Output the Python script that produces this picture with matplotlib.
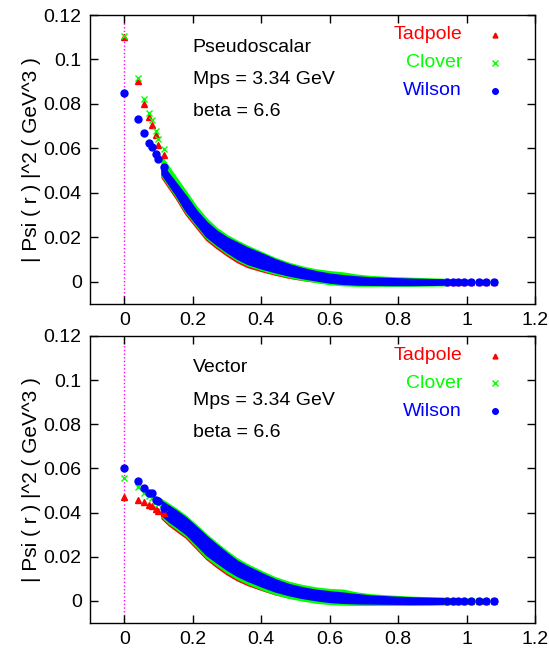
import matplotlib.pyplot as plt
import numpy as np

plt.rcParams['font.family'] = ['Liberation Sans', 'DejaVu Sans']

# --- data ---
# lattice points near the origin
r_near = [0.0, 0.041, 0.058, 0.071, 0.082, 0.092, 0.100, 0.116]

ps_tad_near = [0.1100, 0.0905, 0.0800, 0.0740, 0.0704, 0.0658, 0.0617, 0.0570]
ps_clo_near = [0.1105, 0.0918, 0.0821, 0.0757, 0.0728, 0.0680, 0.0644, 0.0595]
ps_wil_near = [0.0851, 0.0733, 0.0670, 0.0626, 0.0608, 0.0575, 0.0554, 0.0515]

ve_tad_near = [0.0472, 0.0457, 0.0447, 0.0435, 0.0430, 0.0415, 0.0408, 0.0397]
ve_clo_near = [0.0556, 0.0518, 0.0490, 0.0475, 0.0465, 0.0450, 0.0440, 0.0420]
ve_wil_near = [0.0601, 0.0543, 0.0510, 0.0490, 0.0488, 0.0457, 0.0452, 0.0420]

# dense region: upper / lower edge of the point cloud
r_band = [0.11, 0.13, 0.15, 0.18, 0.21, 0.24, 0.27, 0.30, 0.33, 0.36, 0.40, 0.44,
          0.48, 0.52, 0.56, 0.60, 0.64, 0.68, 0.72, 0.78, 0.84, 0.90, 0.94]

ps_wil_hi = [0.0525, 0.0485, 0.0445, 0.0385, 0.0320, 0.0268, 0.0228, 0.0198, 0.0175, 0.0152, 0.0127, 0.0100,
             0.0078, 0.0060, 0.0046, 0.0035, 0.0028, 0.0022, 0.0018, 0.0015, 0.0012, 0.0010, 0.0009]
ps_wil_lo = [0.0485, 0.0440, 0.0395, 0.0320, 0.0262, 0.0205, 0.0168, 0.0135, 0.0105, 0.0082, 0.0062, 0.0045,
             0.0030, 0.0018, 0.0008, -0.0002, -0.0008, -0.0011, -0.0012, -0.0013, -0.0013, -0.0012, -0.0011]
ps_clo_hi = [0.0560, 0.0515, 0.0470, 0.0405, 0.0338, 0.0283, 0.0240, 0.0208, 0.0183, 0.0160, 0.0133, 0.0106,
             0.0084, 0.0067, 0.0054, 0.0046, 0.0040, 0.0030, 0.0024, 0.0019, 0.0016, 0.0013, 0.0011]
ps_clo_lo = [0.0478, 0.0433, 0.0388, 0.0313, 0.0255, 0.0198, 0.0161, 0.0128, 0.0098, 0.0075, 0.0055, 0.0038,
             0.0023, 0.0011, 0.0001, -0.0009, -0.0014, -0.0016, -0.0016, -0.0016, -0.0016, -0.0015, -0.0014]
ps_tad_hi = [0.0505, 0.0465, 0.0425, 0.0365, 0.0300, 0.0248, 0.0208, 0.0178, 0.0155, 0.0132, 0.0107, 0.0080,
             0.0058, 0.0040, 0.0028, 0.0020, 0.0015, 0.0012, 0.0010, 0.0009, 0.0008, 0.0007, 0.0006]
ps_tad_lo = [0.0470, 0.0425, 0.0380, 0.0305, 0.0247, 0.0190, 0.0153, 0.0120, 0.0090, 0.0068, 0.0050, 0.0034,
             0.0020, 0.0010, 0.0002, -0.0005, -0.0009, -0.0011, -0.0012, -0.0012, -0.0012, -0.0011, -0.0010]

ve_wil_hi = [0.0450, 0.0430, 0.0410, 0.0376, 0.0335, 0.0292, 0.0253, 0.0215, 0.0180, 0.0155, 0.0125, 0.0097,
             0.0075, 0.0060, 0.0049, 0.0042, 0.0036, 0.0029, 0.0023, 0.0018, 0.0014, 0.0012, 0.0011]
ve_wil_lo = [0.0390, 0.0362, 0.0340, 0.0305, 0.0258, 0.0210, 0.0176, 0.0143, 0.0115, 0.0093, 0.0068, 0.0045,
             0.0028, 0.0015, 0.0005, -0.0003, -0.0007, -0.0009, -0.0010, -0.0011, -0.0012, -0.0012, -0.0011]
ve_clo_hi = [0.0458, 0.0438, 0.0418, 0.0384, 0.0343, 0.0300, 0.0261, 0.0224, 0.0190, 0.0164, 0.0134, 0.0106,
             0.0085, 0.0070, 0.0059, 0.0052, 0.0049, 0.0036, 0.0028, 0.0022, 0.0017, 0.0014, 0.0012]
ve_clo_lo = [0.0382, 0.0352, 0.0330, 0.0295, 0.0247, 0.0198, 0.0163, 0.0130, 0.0102, 0.0080, 0.0055, 0.0033,
             0.0016, 0.0004, -0.0006, -0.0012, -0.0015, -0.0016, -0.0016, -0.0016, -0.0016, -0.0015, -0.0014]
ve_tad_hi = [0.0430, 0.0410, 0.0390, 0.0356, 0.0315, 0.0272, 0.0233, 0.0195, 0.0160, 0.0135, 0.0105, 0.0077,
             0.0055, 0.0040, 0.0029, 0.0022, 0.0016, 0.0012, 0.0010, 0.0008, 0.0007, 0.0006, 0.0006]
ve_tad_lo = [0.0375, 0.0345, 0.0322, 0.0288, 0.0240, 0.0192, 0.0155, 0.0122, 0.0095, 0.0074, 0.0052, 0.0032,
             0.0018, 0.0008, 0.0000, -0.0006, -0.0009, -0.0010, -0.0011, -0.0011, -0.0011, -0.0011, -0.0010]

# sparse far tail
r_tail = [0.943, 0.960, 0.976, 0.993, 1.014, 1.036, 1.057, 1.081]
psi_tail = [0.0001, 0.0001, 0.0, 0.0, 0.0, 0.0, 0.0, 0.0]

series = ["Tadpole", "Clover", "Wilson"]
colors = {"Tadpole": "#ff0000", "Clover": "#00ff00", "Wilson": "#0000ff"}
markers = {"Tadpole": "^", "Clover": "x", "Wilson": "o"}
msize = {"Tadpole": 4.5, "Clover": 5.0, "Wilson": 5.0}

panels = [
    ("Pseudoscalar",
     {"Tadpole": (ps_tad_near, ps_tad_hi, ps_tad_lo),
      "Clover": (ps_clo_near, ps_clo_hi, ps_clo_lo),
      "Wilson": (ps_wil_near, ps_wil_hi, ps_wil_lo)}),
    ("Vector",
     {"Tadpole": (ve_tad_near, ve_tad_hi, ve_tad_lo),
      "Clover": (ve_clo_near, ve_clo_hi, ve_clo_lo),
      "Wilson": (ve_wil_near, ve_wil_hi, ve_wil_lo)}),
]

fig = plt.figure(figsize=(5.49, 6.5), dpi=100)
ax_pos = [[90 / 549, 1 - 304 / 650, 445 / 549, 289 / 650],
          [90 / 549, 1 - 623 / 650, 445 / 549, 287 / 650]]

fs = 14
for (title, data), pos in zip(panels, ax_pos):
    ax = fig.add_axes(pos)
    ax.axvline(0, color="#ff00ff", linestyle=":", linewidth=1.0, zorder=1)
    for name in series:
        near, hi, lo = data[name]
        c = colors[name]
        ax.fill_between(r_band, lo, hi, color=c, linewidth=1.5, edgecolor=c, zorder=2)
        ax.plot(r_near, near, linestyle="none", marker=markers[name], color=c,
                markersize=msize[name], markeredgewidth=1.0, zorder=3)
        ax.plot(r_tail, psi_tail, linestyle="none", marker=markers[name], color=c,
                markersize=msize[name], markeredgewidth=1.0, zorder=3)

    ax.set_xlim(-0.1, 1.2)
    ax.set_ylim(-0.01, 0.12)
    ax.set_xticks([0, 0.2, 0.4, 0.6, 0.8, 1.0, 1.2])
    ax.set_xticklabels(["0", "0.2", "0.4", "0.6", "0.8", "1", "1.2"])
    ax.set_yticks([0, 0.02, 0.04, 0.06, 0.08, 0.1, 0.12])
    ax.set_yticklabels(["0", "0.02", "0.04", "0.06", "0.08", "0.1", "0.12"])
    ax.tick_params(direction="in", length=6, width=1, top=True, right=True,
                   labelsize=fs, pad=6)
    for sp in ax.spines.values():
        sp.set_linewidth(1.0)
    ax.set_ylabel("| Psi ( r ) |^2 ( GeV^3 )", fontsize=fs + 1, labelpad=2)

    ax.text(0.231, 0.889, title, transform=ax.transAxes, fontsize=fs, va="center", ha="left")
    ax.text(0.231, 0.776, "Mps = 3.34 GeV", transform=ax.transAxes, fontsize=fs, va="center", ha="left")
    ax.text(0.231, 0.665, "beta = 6.6", transform=ax.transAxes, fontsize=fs, va="center", ha="left")

    for name, yk in zip(series, [0.932, 0.835, 0.738]):
        ax.text(0.836, yk, name, transform=ax.transAxes, fontsize=fs, color=colors[name],
                va="center", ha="right")
        ax.plot([0.910], [yk], transform=ax.transAxes, marker=markers[name], color=colors[name],
                markersize=msize[name] - 1.0, markeredgewidth=1.0, linestyle="none")

fig.savefig("out.png", dpi=100)
